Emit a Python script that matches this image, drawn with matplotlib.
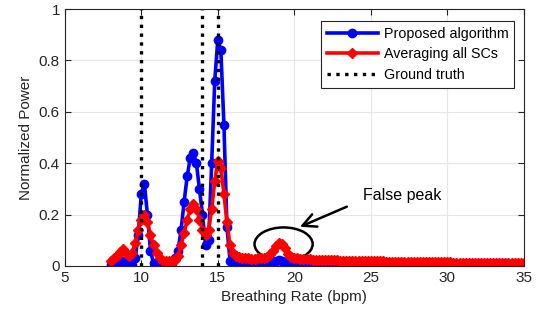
import matplotlib.pyplot as plt
import numpy as np
from matplotlib.patches import Ellipse

plt.rcParams['font.family'] = ['Liberation Sans', 'DejaVu Sans']

# breathing rate grid (bpm)
rate = np.round(np.arange(8, 35.01, 0.2), 1)

proposed = [0.005, 0.01, 0.005, 0.015, 0.02, 0.015, 0.01, 0.005, 0.03, 0.12,
            0.28, 0.32, 0.2, 0.06, 0.01, 0.005, 0.0, 0.0, 0.0, 0.005,
            0.01, 0.03, 0.06, 0.14, 0.25, 0.35, 0.42, 0.44, 0.40, 0.30,
            0.20, 0.08, 0.10, 0.40, 0.72, 0.88, 0.84, 0.55, 0.15, 0.02,
            0.005,
            0.004, 0.003, 0.003, 0.004, 0.005, 0.006, 0.006, 0.007, 0.008, 0.01,
            0.012, 0.015, 0.018, 0.02, 0.022, 0.02, 0.016, 0.012, 0.01, 0.008,
            0.007, 0.006, 0.006, 0.005, 0.005, 0.006, 0.006, 0.005, 0.005, 0.004,
            0.004, 0.005, 0.005, 0.006, 0.006, 0.005, 0.004, 0.004, 0.005, 0.005,
            0.006, 0.006, 0.005, 0.004, 0.004, 0.005, 0.006, 0.006, 0.005, 0.004,
            0.004, 0.005, 0.005, 0.006, 0.007, 0.008, 0.008, 0.007, 0.006, 0.005,
            0.005, 0.006, 0.007, 0.008, 0.009, 0.009, 0.008, 0.007, 0.006, 0.005,
            0.005, 0.004, 0.004, 0.005, 0.005, 0.004, 0.004, 0.003, 0.003, 0.004,
            0.004, 0.003, 0.003, 0.004, 0.004, 0.003, 0.003, 0.004, 0.004, 0.005,
            0.005, 0.006, 0.006, 0.007, 0.008]

averaging = [0.02, 0.03, 0.04, 0.055, 0.065, 0.05, 0.04, 0.05, 0.09, 0.14,
             0.18, 0.2, 0.17, 0.12, 0.08, 0.05, 0.03, 0.02, 0.02, 0.02,
             0.02, 0.025, 0.04, 0.08, 0.13, 0.18, 0.22, 0.24, 0.22, 0.18,
             0.14, 0.12, 0.14, 0.22, 0.33, 0.41, 0.38, 0.28, 0.17, 0.08,
             0.05,
             0.04, 0.035, 0.032, 0.03, 0.03, 0.028, 0.028, 0.03, 0.03, 0.032,
             0.035, 0.045, 0.06, 0.078, 0.09, 0.085, 0.068, 0.048, 0.036, 0.03,
             0.03, 0.028, 0.027, 0.026, 0.026, 0.025, 0.025, 0.024, 0.024, 0.023,
             0.023, 0.022, 0.022, 0.022, 0.021, 0.021, 0.021, 0.02, 0.02, 0.02,
             0.02, 0.019, 0.019, 0.019, 0.019, 0.018, 0.018, 0.018, 0.018, 0.017,
             0.017, 0.017, 0.017, 0.016, 0.016, 0.016, 0.016, 0.016, 0.015, 0.015,
             0.015, 0.015, 0.015, 0.015, 0.015, 0.014, 0.014, 0.014, 0.014, 0.014,
             0.014, 0.013, 0.013, 0.013, 0.013, 0.013, 0.013, 0.012, 0.012, 0.012,
             0.012, 0.012, 0.012, 0.012, 0.011, 0.011, 0.011, 0.011, 0.011, 0.011,
             0.011, 0.011, 0.011, 0.011, 0.011]

truth = [10, 14, 15]

fig = plt.figure(figsize=(5.4, 3.22), dpi=100)
ax = fig.add_axes([0.12, 0.174, 0.85, 0.798])

ax.plot(rate, proposed, color='blue', lw=2.6, marker='o', ms=6, label='Proposed algorithm')
ax.plot(rate, averaging, color='red', lw=2.6, marker='D', ms=5.5, label='Averaging all SCs')
for i, t in enumerate(truth):
    ax.axvline(t, color='black', ls=':', lw=2.4, label='Ground truth' if i == 0 else None)

ax.set_xlim(5, 35)
ax.set_ylim(0, 1)
ax.set_xticks(np.arange(5, 36, 5))
ax.set_yticks([0, 0.2, 0.4, 0.6, 0.8, 1])
ax.set_yticklabels(['0', '0.2', '0.4', '0.6', '0.8', '1'])
ax.grid(True, color='#e6e6e6', lw=0.8)
ax.set_axisbelow(True)
ax.tick_params(direction='in', labelsize=11, colors='#262626', top=True, right=True, length=4)
for s in ax.spines.values():
    s.set_color('#262626')
    s.set_linewidth(0.8)
ax.set_xlabel('Breathing Rate (bpm)', fontsize=11, color='#262626')
ax.set_ylabel('Normalized Power', fontsize=11, color='#262626')

ax.add_patch(Ellipse((19.3, 0.085), 3.8, 0.13, fill=False, ec='black', lw=1.8))
ax.annotate('', xy=(20.2, 0.148), xytext=(23.6, 0.235),
            arrowprops=dict(arrowstyle='->', color='black', lw=1.8, mutation_scale=24))
ax.text(24.5, 0.276, 'False peak', fontsize=11.5, va='center', ha='left')

leg = ax.legend(loc='upper right', bbox_to_anchor=(0.995, 0.98), fontsize=10.3, handlelength=3.6,
                fancybox=False, edgecolor='#262626', framealpha=1, borderpad=0.4,
                labelspacing=0.45, handletextpad=0.4)
leg.get_frame().set_linewidth(0.8)

plt.savefig('out.png', dpi=100)
